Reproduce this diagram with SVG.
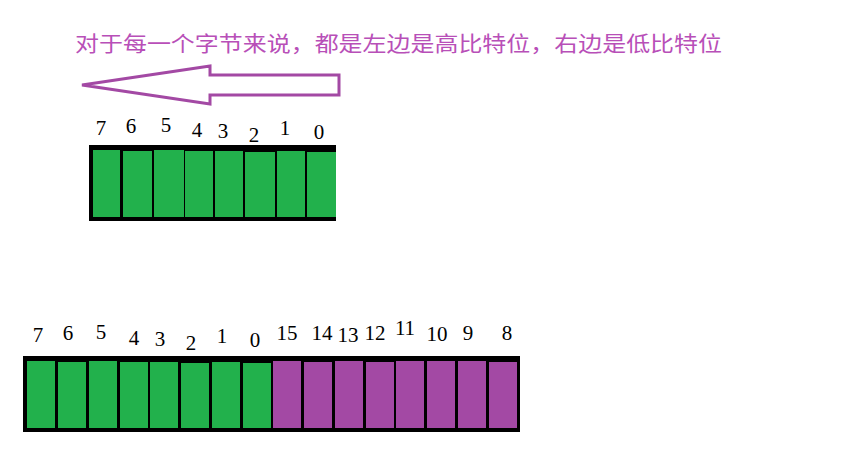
<svg xmlns="http://www.w3.org/2000/svg" width="864" height="473" viewBox="0 0 864 473">
<style>
.n{font-family:"Liberation Serif",serif;font-size:21px;fill:#000;text-anchor:middle}
.g{fill:#22b14c}.p{fill:#a349a4}
</style>
<rect width="864" height="473" fill="#fff"/>
<text x="75" y="51" font-family="'Noto Sans CJK SC',sans-serif" font-size="21" fill="#b84fb8" textLength="647" lengthAdjust="spacingAndGlyphs">对于每一个字节来说，都是左边是高比特位，右边是低比特位</text>
<g id="arrow"><polygon points="82,85 210,66 210,75 339,75 339,95 210,95 210,104" fill="#fff" stroke="#a349a4" stroke-width="3"/></g>
<g id="byte1">
<rect x="89" y="145" width="247" height="76" fill="#000"/>
<g class="g">
<rect x="93" y="150" width="27" height="67"/><rect x="123" y="151" width="29" height="66"/><rect x="154" y="150" width="30" height="67"/><rect x="185" y="151" width="28" height="66"/><rect x="215" y="151" width="28" height="66"/><rect x="245" y="152" width="30" height="65"/><rect x="277" y="151" width="28" height="66"/><rect x="307" y="152" width="29" height="65"/>
</g>
<text class="n" x="101" y="135">7</text><text class="n" x="131" y="133">6</text><text class="n" x="166" y="132">5</text><text class="n" x="197" y="137">4</text><text class="n" x="223" y="138">3</text><text class="n" x="254" y="142">2</text><text class="n" x="285" y="135">1</text><text class="n" x="319" y="139">0</text>
</g>
<g id="word">
<rect x="23" y="356" width="497" height="76" fill="#000"/>
<g class="g">
<rect x="27" y="361" width="28" height="67"/><rect x="58" y="362" width="28" height="66"/><rect x="89" y="361" width="28" height="67"/><rect x="120" y="362" width="28" height="66"/><rect x="150" y="362" width="28" height="66"/><rect x="181" y="363" width="28" height="65"/><rect x="212" y="362" width="28" height="66"/><rect x="243" y="363" width="28" height="65"/>
</g>
<g class="p">
<rect x="273" y="361" width="28" height="67"/><rect x="304" y="362" width="28" height="66"/><rect x="335" y="361" width="28" height="67"/><rect x="366" y="362" width="28" height="66"/><rect x="396" y="361" width="28" height="67"/><rect x="427" y="361" width="28" height="67"/><rect x="458" y="361" width="28" height="67"/><rect x="489" y="362" width="28" height="66"/>
</g>
<text class="n" x="38" y="342">7</text><text class="n" x="68" y="340">6</text><text class="n" x="101" y="339">5</text><text class="n" x="134" y="345">4</text><text class="n" x="160" y="346">3</text><text class="n" x="191" y="350">2</text><text class="n" x="222" y="343">1</text><text class="n" x="255" y="347">0</text>
<text class="n" x="287" y="340">15</text><text class="n" x="322" y="340">14</text><text class="n" x="348" y="342">13</text><text class="n" x="375" y="340">12</text><text class="n" x="405" y="335">11</text><text class="n" x="437" y="341">10</text><text class="n" x="468" y="340">9</text><text class="n" x="507" y="340">8</text>
</g>
</svg>
